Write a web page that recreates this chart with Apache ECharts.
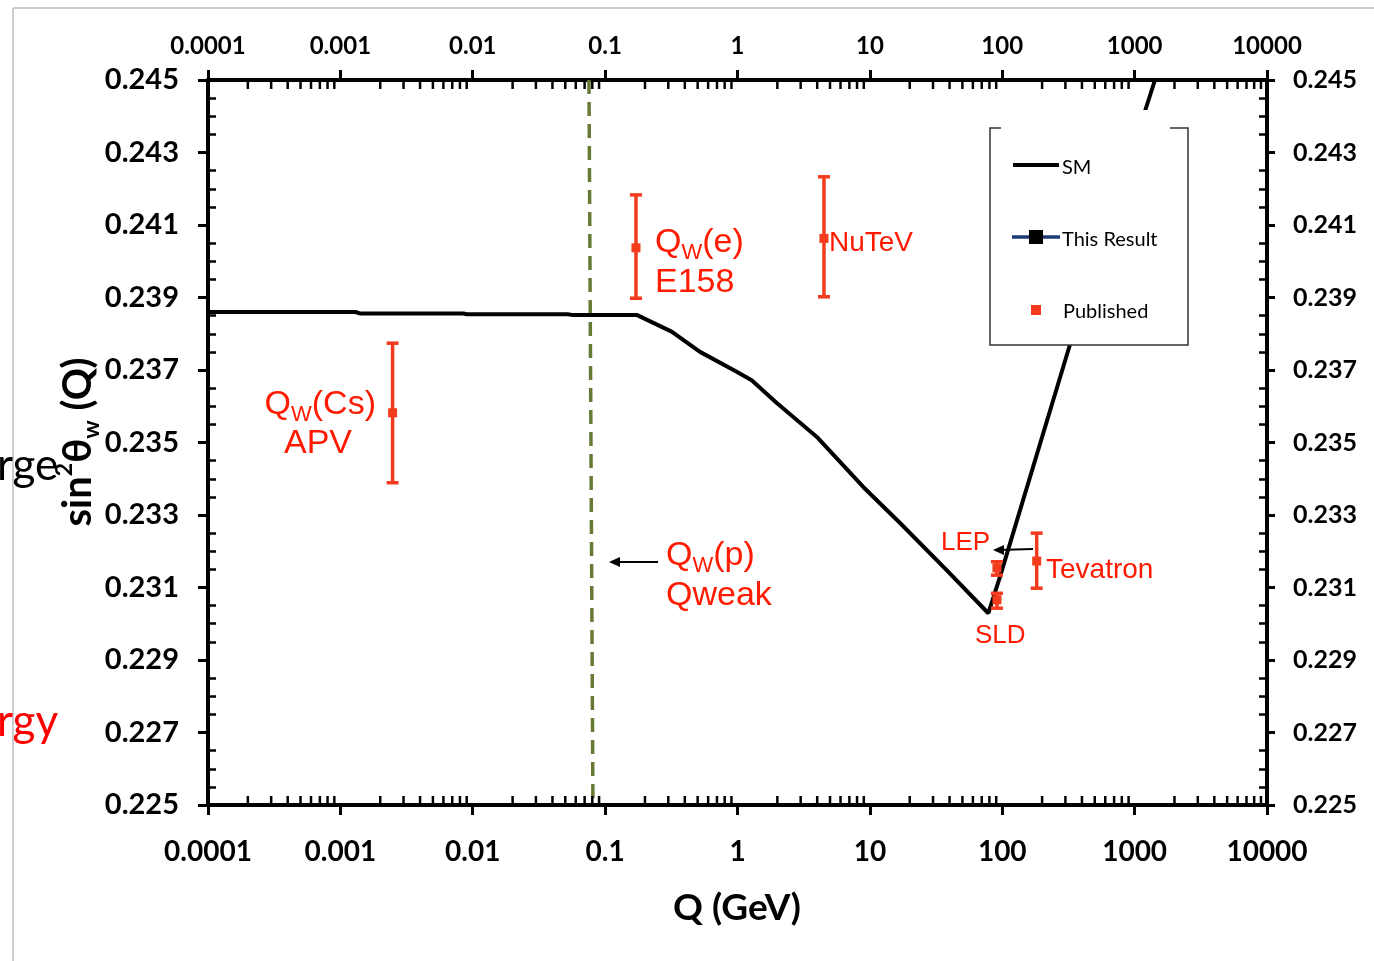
<!DOCTYPE html>
<html>
<head>
<meta charset="utf-8">
<script src="https://cdn.jsdelivr.net/npm/echarts@6/dist/echarts.min.js"></script>
<style>
html, body { margin: 0; padding: 0; background: #fff; }
#chart { width: 1374px; height: 961px; }
</style>
</head>
<body>
<div id="chart"></div>
<script>
// tick labels
var xTickLabels = ['0.0001', '0.001', '0.01', '0.1', '1', '10', '100', '1000', '10000'];
var xDecades = [0.0001, 0.001, 0.01, 0.1, 1, 10, 100, 1000];
var xMinorSteps = [2, 3, 4, 5, 6, 7, 8, 9];

// SM running curve
var smQ = [0.0001, 0.0013, 0.0014, 0.0085, 0.009, 0.052, 0.056, 0.173, 0.318, 0.521, 0.986, 1.28, 1.98, 3.96, 8.87, 16.9, 38.0, 78.5, 96.2, 324, 1425];
var smS = [0.23860, 0.23860, 0.23856, 0.23856, 0.23854, 0.23854, 0.23852, 0.23852, 0.23806, 0.23750, 0.23695, 0.23672, 0.23609, 0.23516, 0.23378, 0.23278, 0.23148, 0.23029, 0.23130, 0.23769, 0.24500];

// published measurements
var pubNames = ['APV', 'E158', 'NuTeV', 'LEP', 'SLD', 'Tevatron'];
var pubQ = [0.00248, 0.171, 4.5, 91.2, 91.2, 182];
var pubS = [0.23582, 0.24037, 0.24063, 0.23154, 0.23066, 0.23173];
var pubLo = [0.23389, 0.23898, 0.23902, 0.23134, 0.23043, 0.23098];
var pubHi = [0.23774, 0.24183, 0.24233, 0.23171, 0.23084, 0.23250];

// Qweak position (dashed line)
var qweakQ = [0.0755, 0.0809];
var qweakS = [0.245, 0.225];

var FONT = 'Lato';
var RED_T = '#ff1a00';
var RED = '#f43b1d';

var myChart = echarts.init(document.getElementById('chart'));

var smData = [];
for (var i = 0; i < smQ.length; i++) smData.push([smQ[i], smS[i]]);
var pubData = [];
for (var j = 0; j < pubQ.length; j++) pubData.push({ name: pubNames[j], value: [pubQ[j], pubS[j], pubLo[j], pubHi[j]] });
var qweakData = [[qweakQ[0], qweakS[0]], [qweakQ[1], qweakS[1]]];
var minorData = [];
xDecades.forEach(function (d) {
    xMinorSteps.forEach(function (m) { minorData.push([d * m, 0.235]); });
});

function xLabel(v) {
    return xTickLabels[Math.round(Math.log10(v)) + 4];
}

function errBar(params, api) {
    var x = api.value(0);
    var c = api.coord([x, api.value(1)]);
    var lo = api.coord([x, api.value(2)]);
    var hi = api.coord([x, api.value(3)]);
    var cw = 6;
    var st = { stroke: RED, lineWidth: 3.5 };
    return {
        type: 'group',
        children: [
            { type: 'line', shape: { x1: lo[0], y1: lo[1], x2: hi[0], y2: hi[1] }, style: st },
            { type: 'line', shape: { x1: hi[0] - cw, y1: hi[1], x2: hi[0] + cw, y2: hi[1] }, style: st },
            { type: 'line', shape: { x1: lo[0] - cw, y1: lo[1], x2: lo[0] + cw, y2: lo[1] }, style: st },
            { type: 'rect', shape: { x: c[0] - 4.5, y: c[1] - 4.5, width: 9, height: 9 }, style: { fill: RED } }
        ]
    };
}

function minorTicks(params, api) {
    var v = api.value(0);
    var b = api.coord([v, 0.225]);
    var t = api.coord([v, 0.245]);
    var st = { stroke: '#000', lineWidth: 2.5 };
    return {
        type: 'group',
        children: [
            { type: 'line', shape: { x1: b[0], y1: b[1], x2: b[0], y2: b[1] - 9 }, style: st },
            { type: 'line', shape: { x1: t[0], y1: t[1], x2: t[0], y2: t[1] + 9 }, style: st }
        ]
    };
}

var xBase = {
    type: 'log',
    logBase: 10,
    min: 0.0001,
    max: 10000,
    splitNumber: 8,
    axisLine: { onZero: false, lineStyle: { color: '#000', width: 4 } },
    axisTick: { length: 10, lineStyle: { color: '#000', width: 3 } },
    splitLine: { show: false },
    minorTick: { show: false }
};
var yBase = {
    type: 'value',
    min: 0.225,
    max: 0.245,
    interval: 0.002,
    splitLine: { show: false },
    axisLine: { onZero: false, lineStyle: { color: '#000', width: 4 } }
};

var option = {
    backgroundColor: '#fff',
    animation: false,
    grid: { left: 208, right: 107, top: 80, bottom: 156, containLabel: false },
    xAxis: [
        Object.assign({}, xBase, {
            position: 'bottom',
            axisLabel: { formatter: xLabel, fontSize: 28, fontWeight: 'bold', color: '#000', fontFamily: FONT, margin: 33 }
        }),
        Object.assign({}, xBase, {
            position: 'top',
            axisLabel: { formatter: xLabel, fontSize: 24, fontWeight: 'bold', color: '#000', fontFamily: FONT, margin: 22 }
        })
    ],
    yAxis: [
        Object.assign({}, yBase, {
            position: 'left',
            axisTick: { length: 10, lineStyle: { color: '#000', width: 3 } },
            axisLabel: { formatter: function (v) { return v.toFixed(3); }, fontSize: 29, fontWeight: 'bold', color: '#000', fontFamily: FONT, margin: 29 }
        }),
        Object.assign({}, yBase, {
            position: 'left',
            axisLine: { show: false },
            axisLabel: { show: false },
            axisTick: { show: false, inside: true },
            minorTick: { show: true, splitNumber: 4, length: 8, lineStyle: { color: '#000', width: 2.5 } }
        }),
        Object.assign({}, yBase, {
            position: 'right',
            axisTick: { length: 8, lineStyle: { color: '#000', width: 3 } },
            axisLabel: { formatter: function (v) { return v.toFixed(3); }, fontSize: 25, fontWeight: 'bold', color: '#000', fontFamily: FONT, margin: 26 }
        }),
        Object.assign({}, yBase, {
            position: 'right',
            axisLine: { show: false },
            axisLabel: { show: false },
            axisTick: { show: false, inside: true },
            minorTick: { show: true, splitNumber: 4, length: 8, lineStyle: { color: '#000', width: 2.5 } }
        })
    ],
    series: [
        {
            name: 'Qweak',
            type: 'line',
            data: qweakData,
            symbol: 'none',
            lineStyle: { color: '#667a36', width: 3.5, type: [14, 8] },
            z: 1
        },
        {
            name: 'SM',
            type: 'line',
            data: smData,
            symbol: 'none',
            clip: true,
            lineStyle: { color: '#000', width: 4 },
            z: 3
        },
        {
            name: 'Published',
            type: 'custom',
            renderItem: errBar,
            data: pubData,
            encode: { x: 0, y: [1, 2, 3] },
            z: 4
        },
        {
            name: 'minor',
            type: 'custom',
            renderItem: minorTicks,
            data: minorData,
            encode: { x: 0, y: 1 },
            silent: true,
            clip: false,
            z: 5
        }
    ],
    graphic: [
        // slide border
        { type: 'line', shape: { x1: 13, y1: 8, x2: 1374, y2: 8 }, style: { stroke: '#bdbdbd', lineWidth: 1.5 }, z: 1 },
        { type: 'line', shape: { x1: 13, y1: 8, x2: 13, y2: 961 }, style: { stroke: '#bdbdbd', lineWidth: 1.5 }, z: 1 },
        { type: 'text', x: -3, y: 466, style: { text: 'rge', fontSize: 44, fontFamily: FONT, fill: '#000', verticalAlign: 'middle' }, z: 2 },
        { type: 'text', x: -3, y: 722, style: { text: 'rgy', fontSize: 44, fontFamily: FONT, fill: '#ff0000', verticalAlign: 'middle' }, z: 2 },
        // axis names
        {
            type: 'text', x: 78, y: 442, rotation: Math.PI / 2,
            style: {
                text: '{a|sin}{p|2}{a|θ}{b|w}{a| (Q)}', align: 'center', verticalAlign: 'middle',
                rich: {
                    a: { fontSize: 40, fontWeight: 'bold', fontFamily: FONT, fill: '#000', lineHeight: 50 },
                    p: { fontSize: 23, fontWeight: 'bold', fontFamily: FONT, fill: '#000', lineHeight: 26, verticalAlign: 'top' },
                    b: { fontSize: 23, fontWeight: 'bold', fontFamily: FONT, fill: '#000', lineHeight: 24, verticalAlign: 'bottom' }
                }
            }, z: 10
        },
        { type: 'text', x: 737, y: 908, style: { text: 'Q (GeV)', fontSize: 37, fontWeight: 'bold', fontFamily: FONT, fill: '#000', align: 'center', verticalAlign: 'middle' }, z: 10 },
        // annotations
        {
            type: 'text', x: 376, y: 405,
            style: {
                text: '{m|Q}{s|W}{m|(Cs)}', align: 'right', verticalAlign: 'middle',
                rich: { m: { fontSize: 34, fontFamily: 'Liberation Sans', fill: RED_T, lineHeight: 42 }, s: { fontSize: 22, fontFamily: 'Liberation Sans', fill: RED_T, lineHeight: 27, verticalAlign: 'bottom' } }
            }, z: 10
        },
        { type: 'text', x: 318, y: 444, style: { text: 'APV', fontSize: 34, fontFamily: 'Liberation Sans', fill: RED_T, align: 'center', verticalAlign: 'middle' }, z: 10 },
        {
            type: 'text', x: 655, y: 243,
            style: {
                text: '{m|Q}{s|W}{m|(e)}', align: 'left', verticalAlign: 'middle',
                rich: { m: { fontSize: 34, fontFamily: 'Liberation Sans', fill: RED_T, lineHeight: 42 }, s: { fontSize: 22, fontFamily: 'Liberation Sans', fill: RED_T, lineHeight: 27, verticalAlign: 'bottom' } }
            }, z: 10
        },
        { type: 'text', x: 655, y: 283, style: { text: 'E158', fontSize: 34, fontFamily: 'Liberation Sans', fill: RED_T, verticalAlign: 'middle' }, z: 10 },
        { type: 'text', x: 829, y: 243, style: { text: 'NuTeV', fontSize: 28, fontFamily: 'Liberation Sans', fill: RED_T, verticalAlign: 'middle' }, z: 10 },
        {
            type: 'text', x: 666, y: 556,
            style: {
                text: '{m|Q}{s|W}{m|(p)}', align: 'left', verticalAlign: 'middle',
                rich: { m: { fontSize: 34, fontFamily: 'Liberation Sans', fill: RED_T, lineHeight: 42 }, s: { fontSize: 22, fontFamily: 'Liberation Sans', fill: RED_T, lineHeight: 27, verticalAlign: 'bottom' } }
            }, z: 10
        },
        { type: 'text', x: 666, y: 596, style: { text: 'Qweak', fontSize: 34, fontFamily: 'Liberation Sans', fill: RED_T, verticalAlign: 'middle' }, z: 10 },
        { type: 'text', x: 941, y: 543, style: { text: 'LEP', fontSize: 26, fontFamily: 'Liberation Sans', fill: RED_T, verticalAlign: 'middle' }, z: 10 },
        { type: 'text', x: 975, y: 636, style: { text: 'SLD', fontSize: 26, fontFamily: 'Liberation Sans', fill: RED_T, verticalAlign: 'middle' }, z: 10 },
        { type: 'text', x: 1046, y: 570, style: { text: 'Tevatron', fontSize: 28, fontFamily: 'Liberation Sans', fill: RED_T, verticalAlign: 'middle' }, z: 10 },
        // arrows
        { type: 'line', shape: { x1: 658, y1: 562, x2: 614, y2: 562 }, style: { stroke: '#000', lineWidth: 2 }, z: 10 },
        { type: 'polygon', shape: { points: [[609, 562], [620, 557], [620, 567]] }, style: { fill: '#000' }, z: 10 },
        { type: 'line', shape: { x1: 1033, y1: 549, x2: 998, y2: 550 }, style: { stroke: '#000', lineWidth: 2 }, z: 10 },
        { type: 'polygon', shape: { points: [[993, 550], [1004, 545], [1004, 555]] }, style: { fill: '#000' }, z: 10 },
        // legend
        { type: 'rect', shape: { x: 990, y: 110, width: 198, height: 235 }, style: { fill: '#fff' }, z: 20 },
        {
            type: 'polyline',
            shape: { points: [[1001, 128], [990, 128], [990, 345], [1188, 345], [1188, 128], [1170, 128]] },
            style: { stroke: '#333', lineWidth: 1.5, fill: null }, z: 21
        },
        { type: 'line', shape: { x1: 1013, y1: 165, x2: 1059, y2: 165 }, style: { stroke: '#000', lineWidth: 4 }, z: 21 },
        { type: 'text', x: 1062, y: 168, style: { text: 'SM', fontSize: 20, fontFamily: FONT, fill: '#000', verticalAlign: 'middle' }, z: 21 },
        { type: 'line', shape: { x1: 1012, y1: 237, x2: 1060, y2: 237 }, style: { stroke: '#1f3a78', lineWidth: 3.5 }, z: 21 },
        { type: 'rect', shape: { x: 1029, y: 230, width: 14, height: 14 }, style: { fill: '#000' }, z: 22 },
        { type: 'text', x: 1062, y: 240, style: { text: 'This Result', fontSize: 20, fontFamily: FONT, fill: '#000', verticalAlign: 'middle' }, z: 21 },
        { type: 'rect', shape: { x: 1031, y: 305, width: 10, height: 10 }, style: { fill: RED }, z: 21 },
        { type: 'text', x: 1063, y: 312, style: { text: 'Published', fontSize: 20, fontFamily: FONT, fill: '#000', verticalAlign: 'middle' }, z: 21 }
    ]
};
myChart.setOption(option);
</script>
</body>
</html>
